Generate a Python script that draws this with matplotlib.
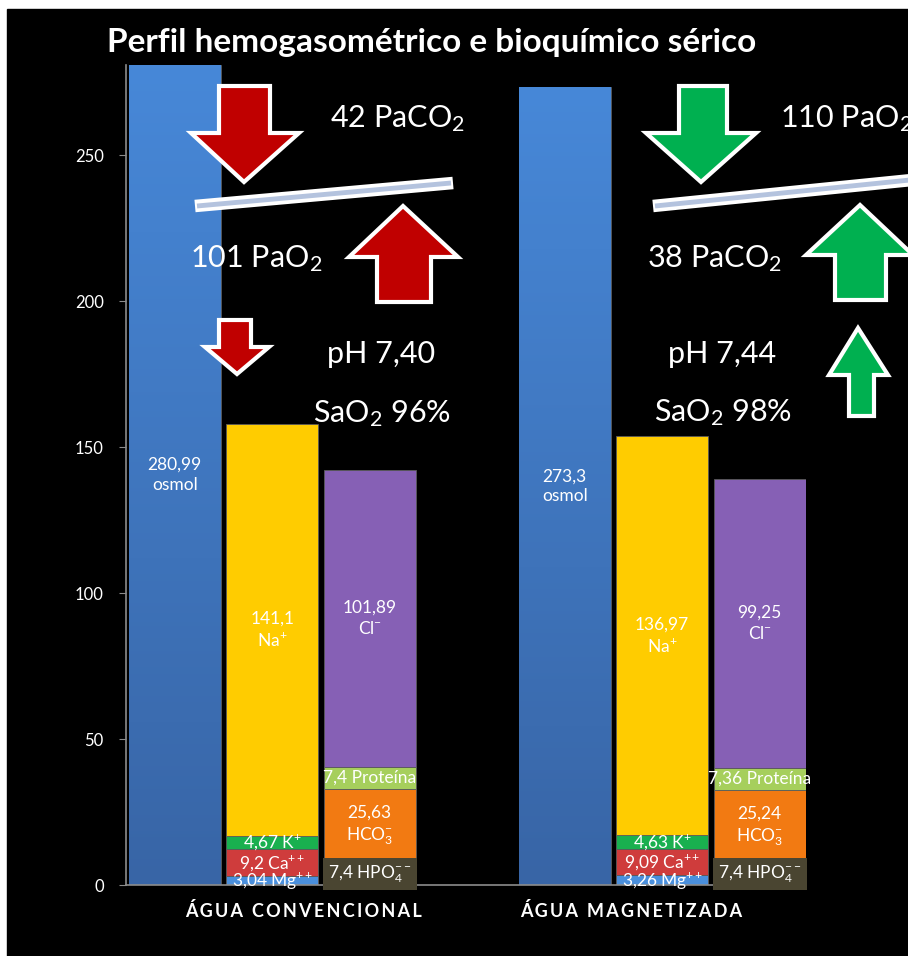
import numpy as np
import matplotlib
matplotlib.use('Agg')
import matplotlib.pyplot as plt
from matplotlib.patches import Polygon, Rectangle
from matplotlib.colors import LinearSegmentedColormap

plt.rcParams['font.family'] = ['Lato', 'DejaVu Sans']
plt.rcParams['mathtext.fontset'] = 'custom'
plt.rcParams['mathtext.rm'] = 'Lato'
plt.rcParams['mathtext.it'] = 'Lato:italic'
plt.rcParams['mathtext.bf'] = 'Lato:bold'

# dados
grupos = ['ÁGUA CONVENCIONAL', 'ÁGUA MAGNETIZADA']
osmol = [280.99, 273.3]
mg = [3.04, 3.26]
ca = [9.2, 9.09]
k = [4.67, 4.63]
na = [141.1, 136.97]
hpo4 = [7.4, 7.4]
hco3 = [25.63, 25.24]
proteina = [7.4, 7.36]
cl = [101.89, 99.25]
paco2 = [42, 38]
pao2 = [101, 110]
ph = ['7,40', '7,44']
sao2 = [96, 98]

W, H = 908, 956
fig = plt.figure(figsize=(W / 100, H / 100), dpi=100, facecolor='white')
fig.patches.append(Rectangle((7 / W, 0), 1, 1 - 9 / H, transform=fig.transFigure,
                             color='black', zorder=-10))

ax = fig.add_axes([126 / W, (H - 885) / H, 680 / W, 820 / H])
ax.set_facecolor('black')


def fmt(v):
    return f'{v}'.replace('.', ',')


def px(x, y):
    return (x / W, 1 - y / H)


x = np.array([0.5, 1.5])
larg = 0.235
desl = [-0.375, -0.125, 0.125]
borda = '#5a5a5a'
fs_rot = 12.5

# barra osmol com degradê
b_osm = ax.bar(x + desl[0], osmol, larg, color='#4280cf', edgecolor=borda, linewidth=0.6, zorder=2)
cmap = LinearSegmentedColormap.from_list('azul', ['#3865a6', '#4788d8'])
grad = np.linspace(0, 1, 256).reshape(-1, 1)
for r in b_osm:
    x0, y0 = r.get_xy()
    im = ax.imshow(grad, extent=[x0, x0 + r.get_width(), y0, y0 + r.get_height()],
                   origin='lower', aspect='auto', cmap=cmap, zorder=2.1)
    im.set_clip_path(r)

# cátions empilhados
cat = [(mg, '#4a8fdc', 'Mg$^{++}$'), (ca, '#cf3c3c', 'Ca$^{++}$'),
       (k, '#19b04f', 'K$^{+}$'), (na, '#ffcc00', 'Na$^{+}$')]
base = np.zeros(2)
for vals, cor, nome in cat:
    ax.bar(x + desl[1], vals, larg, bottom=base, color=cor, edgecolor=borda, linewidth=0.6, zorder=2)
    for i in range(2):
        meio = base[i] + vals[i] / 2
        if nome.startswith('Na'):
            ax.text(x[i] + desl[1], meio, f'{fmt(vals[i])}\n{nome}', ha='center', va='center',
                    color='white', fontsize=fs_rot, zorder=5, linespacing=1.3)
        else:
            ax.text(x[i] + desl[1], meio, f'{fmt(vals[i])} {nome}', ha='center', va='center',
                    color='white', fontsize=fs_rot, zorder=5)
    base = base + np.array(vals)

# ânions empilhados
ani = [(hpo4, '#4a4531', 'HPO$_4^{--}$'), (hco3, '#f27a12', 'HCO$_3^{-}$'),
       (proteina, '#a6cf5c', 'Proteína'), (cl, '#8660b5', 'Cl$^{-}$')]
base = np.zeros(2)
for vals, cor, nome in ani:
    ax.bar(x + desl[2], vals, larg, bottom=base, color=cor, edgecolor=borda, linewidth=0.6, zorder=2)
    for i in range(2):
        meio = base[i] + vals[i] / 2
        if nome.startswith('HPO'):
            ax.text(x[i] + desl[2], meio, f'{fmt(vals[i])} {nome}', ha='center', va='center',
                    color='white', fontsize=fs_rot, zorder=5,
                    bbox=dict(boxstyle='square,pad=0.3', fc=cor, ec='none'))
        elif nome == 'Proteína':
            ax.text(x[i] + desl[2], meio, f'{fmt(vals[i])} {nome}', ha='center', va='center',
                    color='white', fontsize=fs_rot, zorder=5)
        else:
            ax.text(x[i] + desl[2], meio, f'{fmt(vals[i])}\n{nome}', ha='center', va='center',
                    color='white', fontsize=fs_rot, zorder=5, linespacing=1.3)
    base = base + np.array(vals)

for i in range(2):
    ax.text(x[i] + desl[0], osmol[i] / 2, f'{fmt(osmol[i])}\nosmol', ha='center', va='center',
            color='white', fontsize=fs_rot, zorder=5, linespacing=1.3)

ax.set_xlim(0, 680 / 390)
ax.set_ylim(0, 281)
ax.set_yticks(range(0, 251, 50))
ax.tick_params(axis='y', colors='#8c8c8c', labelcolor='white', labelsize=12, length=5, pad=11)
ax.set_xticks([0.456, 1.295])
ax.set_xticklabels(['\u2009'.join(g) for g in grupos], fontweight='bold', fontsize=13, color='white')
ax.tick_params(axis='x', length=0, pad=12)
for s in ['top', 'right']:
    ax.spines[s].set_visible(False)
for s in ['left', 'bottom']:
    ax.spines[s].set_color('#8c8c8c')
    ax.spines[s].set_linewidth(1.2)

fig.text(*px(107, 52), 'Perfil hemogasométrico e bioquímico sérico', color='white',
         fontsize=24, fontweight='bold', ha='left', va='baseline')


# setas
def seta_baixo(sx0, sx1, topo, hy, hx0, hx1, tx, ty, cor):
    pts = [(sx0, topo), (sx1, topo), (sx1, hy), (hx1, hy), (tx, ty), (hx0, hy), (sx0, hy)]
    fig.patches.append(Polygon([px(a, b) for a, b in pts], closed=True, transform=fig.transFigure,
                               fc=cor, ec='white', lw=3, joinstyle='miter', zorder=6))


def seta_cima(sx0, sx1, fundo, hy, hx0, hx1, tx, ty, cor):
    pts = [(sx0, fundo), (sx1, fundo), (sx1, hy), (hx1, hy), (tx, ty), (hx0, hy), (sx0, hy)]
    fig.patches.append(Polygon([px(a, b) for a, b in pts], closed=True, transform=fig.transFigure,
                               fc=cor, ec='white', lw=3, joinstyle='miter', zorder=6))


verm, verde = '#c00000', '#00b050'
seta_baixo(219, 270, 86, 133, 191, 299, 244, 182, verm)
seta_cima(377, 431, 302, 257, 349, 458, 403, 206, verm)
seta_baixo(219, 251, 320, 347, 205, 269, 237, 374, verm)
seta_baixo(679, 727, 86, 133, 646, 756, 701, 182, verde)
seta_cima(835, 886, 300, 255, 806, 913, 860, 205, verde)
seta_cima(849, 874, 416, 375, 829, 888, 858, 328, verde)

# linhas inclinadas
for (xa, ya, xb, yb) in [(195, 206, 453, 183), (653, 206, 912, 180)]:
    a, b = px(xa, ya), px(xb, yb)
    fig.add_artist(plt.Line2D([a[0], b[0]], [a[1], b[1]], transform=fig.transFigure,
                              color='white', lw=9, solid_capstyle='butt', zorder=6))
    fig.add_artist(plt.Line2D([a[0] + 2 / W, b[0] - 2 / W], [a[1], b[1]], transform=fig.transFigure,
                              color='#b4c3de', lw=3.5, solid_capstyle='butt', zorder=7))

# textos gasometria
tg = dict(color='white', fontsize=22, ha='left', va='baseline', zorder=8)
fig.text(*px(330, 127), f'{paco2[0]} PaCO$_2$', **tg)
fig.text(*px(190, 267), f'{pao2[0]} PaO$_2$', **tg)
fig.text(*px(327, 363), f'pH {ph[0]}', **tg)
fig.text(*px(313, 422), f'SaO$_2$ {sao2[0]}%', **tg)
fig.text(*px(780, 127), f'{pao2[1]} PaO$_2$', **tg)
fig.text(*px(647, 267), f'{paco2[1]} PaCO$_2$', **tg)
fig.text(*px(668, 363), f'pH {ph[1]}', **tg)
fig.text(*px(654, 421), f'SaO$_2$ {sao2[1]}%', **tg)

fig.savefig('out.png', dpi=100, facecolor=fig.get_facecolor())
